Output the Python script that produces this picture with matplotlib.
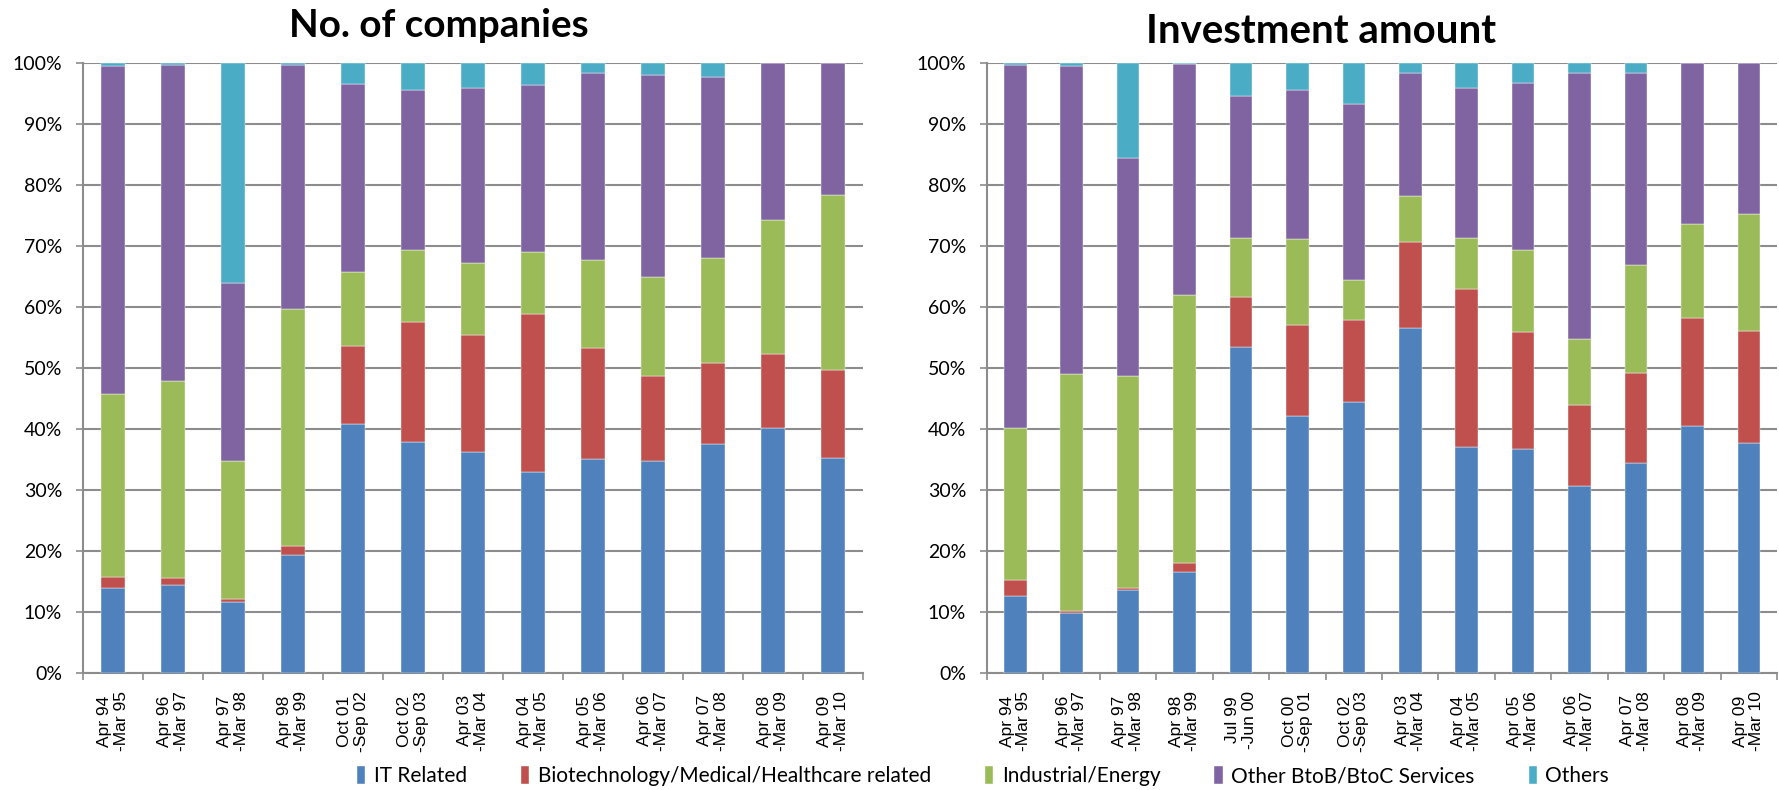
import matplotlib
matplotlib.use('Agg')
import matplotlib.pyplot as plt
import numpy as np

series = ['IT Related', 'Biotechnology/Medical/Healthcare related',
          'Industrial/Energy', 'Other BtoB/BtoC Services', 'Others']
colors = ['#4F81BD', '#C0504D', '#9BBB59', '#8064A2', '#4BACC6']

# ---- No. of companies (percent) ----
comp_periods = ['Apr 94\n-Mar 95', 'Apr 96\n-Mar 97', 'Apr 97\n-Mar 98', 'Apr 98\n-Mar 99',
                'Oct 01\n-Sep 02', 'Oct 02\n-Sep 03', 'Apr 03\n-Mar 04', 'Apr 04\n-Mar 05',
                'Apr 05\n-Mar 06', 'Apr 06\n-Mar 07', 'Apr 07\n-Mar 08', 'Apr 08\n-Mar 09',
                'Apr 09\n-Mar 10']
comp_it = [13.9, 14.5, 11.7, 19.3, 40.9, 37.9, 36.3, 33.0, 35.1, 34.8, 37.5, 40.1, 35.3]
comp_bio = [1.8, 1.1, 0.5, 1.5, 12.7, 19.6, 19.1, 25.8, 18.2, 13.9, 13.4, 12.2, 14.3]
comp_ind = [30.0, 32.3, 22.5, 38.8, 12.1, 11.8, 11.8, 10.2, 14.4, 16.2, 17.2, 21.9, 28.7]
comp_svc = [53.8, 51.7, 29.2, 40.1, 30.9, 26.2, 28.7, 27.4, 30.6, 33.1, 29.6, 25.8, 21.7]
comp_oth = [0.5, 0.4, 36.1, 0.3, 3.4, 4.5, 4.1, 3.6, 1.7, 2.0, 2.3, 0.0, 0.0]

# ---- Investment amount (percent) ----
inv_periods = ['Apr 94\n-Mar 95', 'Apr 96\n-Mar 97', 'Apr 97\n-Mar 98', 'Apr 98\n-Mar 99',
               'Jul 99\n-Jun 00', 'Oct 00\n-Sep 01', 'Oct 02\n-Sep 03', 'Apr 03\n-Mar 04',
               'Apr 04\n-Mar 05', 'Apr 05\n-Mar 06', 'Apr 06\n-Mar 07', 'Apr 07\n-Mar 08',
               'Apr 08\n-Mar 09', 'Apr 09\n-Mar 10']
inv_it = [12.6, 9.8, 13.6, 16.6, 53.4, 42.1, 44.4, 56.5, 37.1, 36.8, 30.7, 34.5, 40.5, 37.7]
inv_bio = [2.6, 0.4, 0.4, 1.4, 8.2, 15.0, 13.5, 14.1, 25.9, 19.1, 13.2, 14.6, 17.7, 18.3]
inv_ind = [24.9, 38.8, 34.7, 43.9, 9.7, 14.1, 6.6, 7.6, 8.3, 13.5, 10.9, 17.8, 15.4, 19.2]
inv_svc = [59.5, 50.5, 35.8, 38.0, 23.3, 24.3, 28.8, 20.1, 24.6, 27.4, 43.5, 31.5, 26.4, 24.8]
inv_oth = [0.4, 0.5, 15.5, 0.1, 5.4, 4.5, 6.7, 1.7, 4.1, 3.2, 1.7, 1.6, 0.0, 0.0]

titles = ['No. of companies', 'Investment amount']

W, H = 1779, 790
fig = plt.figure(figsize=(W / 100, H / 100), dpi=100)

grid_col = '#8C8C8C'

def px_axes(x0, x1, y0, y1):
    return fig.add_axes([x0 / W, 1 - y1 / H, (x1 - x0) / W, (y1 - y0) / H])

ax1 = px_axes(83, 863, 63, 673)
ax2 = px_axes(987, 1777, 63, 673)

datasets = [
    (ax1, comp_periods, [comp_it, comp_bio, comp_ind, comp_svc, comp_oth]),
    (ax2, inv_periods, [inv_it, inv_bio, inv_ind, inv_svc, inv_oth]),
]

handles = None
for ax, periods, vals in datasets:
    n = len(periods)
    x = np.arange(n)
    bottom = np.zeros(n)
    hs = []
    for name, col, v in zip(series, colors, vals):
        v = np.array(v, dtype=float) / 100.0
        h = ax.bar(x, v, 0.4, bottom=bottom, color=col, label=name,
                   edgecolor='white', linewidth=0.3, zorder=3)
        bottom += v
        hs.append(h)
    handles = hs
    ax.set_xlim(-0.5, n - 0.5)
    ax.set_ylim(0, 1)
    ticks = np.arange(0, 1.01, 0.1)
    ax.set_yticks(ticks)
    ax.set_yticklabels([f'{int(round(t * 100))}%' for t in ticks],
                       fontfamily='Lato', fontsize=14)
    ax.yaxis.grid(True, color=grid_col, linewidth=1.5, zorder=0)
    ax.set_axisbelow(True)
    ax.set_xticks(x)
    ax.set_xticklabels(periods, rotation=90, ha='center', va='top',
                       multialignment='center', fontfamily='Liberation Sans',
                       fontsize=12.5, linespacing=1.1)
    ax.set_xticks(np.arange(-0.5, n, 1.0), minor=True)
    ax.tick_params(axis='x', which='major', length=0, pad=13)
    ax.tick_params(axis='x', which='minor', length=5, width=1.2, color=grid_col)
    ax.tick_params(axis='y', length=5, width=1.2, color=grid_col, pad=10)
    for s in ['top', 'right']:
        ax.spines[s].set_visible(False)
    for s in ['left', 'bottom']:
        ax.spines[s].set_color(grid_col)
        ax.spines[s].set_linewidth(1.5)

# titles, sized to the reference widths
renderer = fig.canvas.get_renderer()
title_specs = [(titles[0], 439, 37, 300), (titles[1], 1321, 43, 350)]
for txt, cx, base, target_w in title_specs:
    t = fig.text(cx / W, 1 - base / H, txt, ha='center', va='baseline',
                 fontfamily='Lato', fontweight='bold', fontsize=25)
    w = t.get_window_extent(renderer).width
    t.set_fontsize(25 * target_w / w)

fig.legend(handles, series, loc='center', bbox_to_anchor=(983 / W, 14 / H),
           ncol=5, frameon=False, handlelength=0.4, handleheight=1.0,
           handletextpad=0.4, columnspacing=2.6,
           prop={'family': 'Lato', 'size': 15})

fig.savefig('out.png', dpi=100)
